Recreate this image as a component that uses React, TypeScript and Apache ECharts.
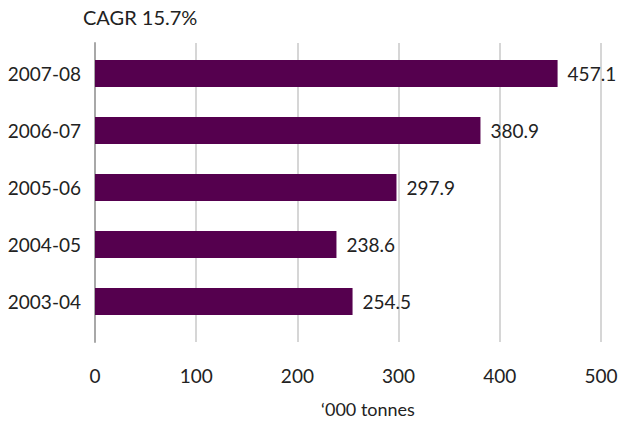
import React, { useEffect, useRef } from "react";
import * as echarts from "echarts";

const years = ["2003-04", "2004-05", "2005-06", "2006-07", "2007-08"];
const volumes = [254.5, 238.6, 297.9, 380.9, 457.1];
const xTicks = [0, 100, 200, 300, 400, 500];
const headline = "CAGR 15.7%";
const unitLabel = "\u2018000 tonnes";

const FONT = "Lato, 'Open Sans', sans-serif";
const TEXT = "#222222";
const BAR = "#55004e";

export default function App() {
  const ref = useRef<HTMLDivElement>(null);

  useEffect(() => {
    if (!ref.current) return;
    const chart = echarts.init(ref.current, null, { renderer: "svg" });
    const xMin = xTicks[0];
    const xMax = xTicks[xTicks.length - 1];
    const step = xTicks[1] - xTicks[0];

    chart.setOption({
      animation: false,
      backgroundColor: "#ffffff",
      textStyle: { fontFamily: FONT, color: TEXT },
      grid: [
        // bars
        { left: 95, right: 24, top: 45, height: 285, containLabel: false },
        // gridlines, axis line and tick labels
        { left: 95, right: 24, top: 43, height: 299, containLabel: false },
      ],
      xAxis: [
        {
          gridIndex: 0,
          type: "value",
          min: xMin,
          max: xMax,
          interval: step,
          axisLabel: { show: false },
          axisLine: { show: false },
          axisTick: { show: false },
          splitLine: { show: false },
        },
        {
          gridIndex: 1,
          type: "value",
          min: xMin,
          max: xMax,
          interval: step,
          axisLabel: {
            show: true,
            margin: 24,
            fontSize: 19,
            color: TEXT,
            fontFamily: FONT,
          },
          axisLine: { show: false },
          axisTick: { show: false },
          splitLine: { show: true, lineStyle: { color: "#c8c8c8", width: 1.5 } },
        },
      ],
      yAxis: [
        {
          gridIndex: 0,
          type: "category",
          data: years,
          axisLabel: {
            margin: 14,
            fontSize: 19,
            color: TEXT,
            fontFamily: FONT,
          },
          axisLine: { show: false },
          axisTick: { show: false },
          splitLine: { show: false },
        },
        {
          gridIndex: 1,
          type: "value",
          min: 0,
          max: 1,
          axisLabel: { show: false },
          axisLine: { show: true, lineStyle: { color: "#a8a8a8", width: 2 } },
          axisTick: { show: false },
          splitLine: { show: false },
        },
      ],
      series: [
        {
          type: "bar",
          xAxisIndex: 0,
          yAxisIndex: 0,
          data: volumes,
          barWidth: 27,
          itemStyle: { color: BAR },
          label: {
            show: true,
            position: "right",
            distance: 10,
            fontSize: 19,
            color: TEXT,
            fontFamily: FONT,
            formatter: (p: any) => Number(p.value).toFixed(1),
          },
        },
      ],
      graphic: [
        {
          type: "text",
          x: 83,
          y: 17,
          style: {
            text: headline,
            fontSize: 20,
            fill: TEXT,
            fontFamily: FONT,
            verticalAlign: "middle",
          },
        },
        {
          type: "text",
          x: 368,
          y: 409,
          style: {
            text: unitLabel,
            fontSize: 18,
            fill: TEXT,
            fontFamily: FONT,
            align: "center",
            verticalAlign: "middle",
          },
        },
      ],
    });

    return () => chart.dispose();
  }, []);

  return (
    <div
      ref={ref}
      style={{ position: "fixed", left: 0, top: 0, width: 625, height: 424 }}
    />
  );
}
